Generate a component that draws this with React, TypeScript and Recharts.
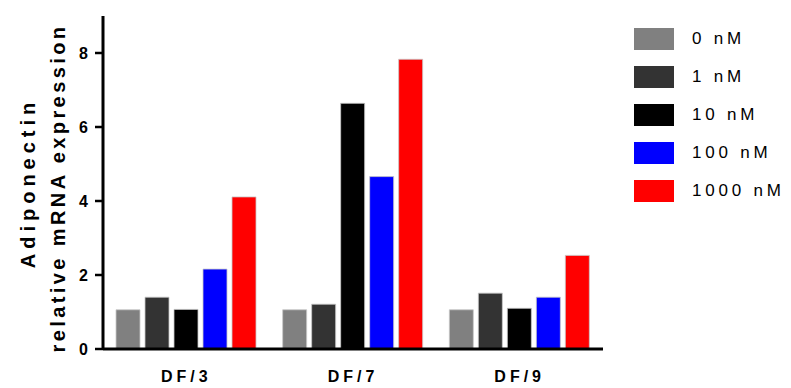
import { BarChart, Bar, XAxis, YAxis } from 'recharts';

const groups = ['DF/3', 'DF/7', 'DF/9'];
const doses = ['0 nM', '1 nM', '10 nM', '100 nM', '1000 nM'];
const doseColors = ['#808080', '#333333', '#000000', '#0000FF', '#FF0000'];

// expression per dose, one entry per group
const nM0 = [1.06, 1.06, 1.06];
const nM1 = [1.4, 1.21, 1.51];
const nM10 = [1.07, 6.64, 1.1];
const nM100 = [2.16, 4.66, 1.4];
const nM1000 = [4.11, 7.83, 2.53];
const yTicks = [0, 2, 4, 6, 8];

const seriesValues = [nM0, nM1, nM10, nM100, nM1000];
const chartData = groups.map((g, i) => {
  const row: Record<string, string | number> = { name: g };
  doses.forEach((d, j) => {
    row[d] = seriesValues[j][i];
  });
  return row;
});

const font = '"Liberation Sans", Arial, sans-serif';

const YLabel = () => (
  <g>
    <text
      transform="translate(35, 183) rotate(-90)"
      textAnchor="middle"
      fontFamily={font}
      fontWeight="bold"
      fontSize={20}
      letterSpacing={5}
      fill="#000"
    >
      Adiponectin
    </text>
    <text
      transform="translate(65, 188) rotate(-90)"
      textAnchor="middle"
      fontFamily={font}
      fontWeight="bold"
      fontSize={20}
      letterSpacing={3.4}
      fill="#000"
    >
      relative mRNA expression
    </text>
  </g>
);

const DoseLegend = () => (
  <div style={{ position: 'absolute', left: 634, top: 20, fontFamily: font }}>
    {doses.map((d, i) => (
      <div key={d} style={{ display: 'flex', alignItems: 'center', height: 38 }}>
        <div style={{ width: 40, height: 22, background: doseColors[i], marginRight: 18 }} />
        <span style={{ fontSize: 17, letterSpacing: 3.8, color: '#000' }}>{d}</span>
      </div>
    ))}
  </div>
);

export default function App() {
  return (
    <div style={{ position: 'absolute', left: 0, top: 0, width: 791, height: 388, background: '#fff' }}>
      <BarChart
        width={791}
        height={388}
        data={chartData}
        margin={{ top: 16, right: 188, left: 0, bottom: 0 }}
        barGap={5}
        barSize={24}
      >
        <XAxis
          dataKey="name"
          axisLine={{ stroke: '#000', strokeWidth: 3 }}
          tickLine={false}
          tick={{ fontFamily: font, fontWeight: 'bold', fontSize: 16, fill: '#000', letterSpacing: 4 }}
          tickMargin={16}
          height={39}
        />
        <YAxis
          width={103}
          domain={[0, 9]}
          ticks={yTicks}
          allowDataOverflow
          axisLine={{ stroke: '#000', strokeWidth: 3 }}
          tickLine={{ stroke: '#000', strokeWidth: 2.5 }}
          tickSize={8}
          tickMargin={7}
          tick={{ fontFamily: font, fontWeight: 'bold', fontSize: 16, fill: '#000' }}
          label={{ content: () => <YLabel /> }}
        />
        {doses.map((d, i) => (
          <Bar
            key={d}
            dataKey={d}
            fill={doseColors[i]}
            stroke="#c8c8c8"
            strokeWidth={0.8}
            isAnimationActive={false}
          />
        ))}
      </BarChart>
      <DoseLegend />
    </div>
  );
}
